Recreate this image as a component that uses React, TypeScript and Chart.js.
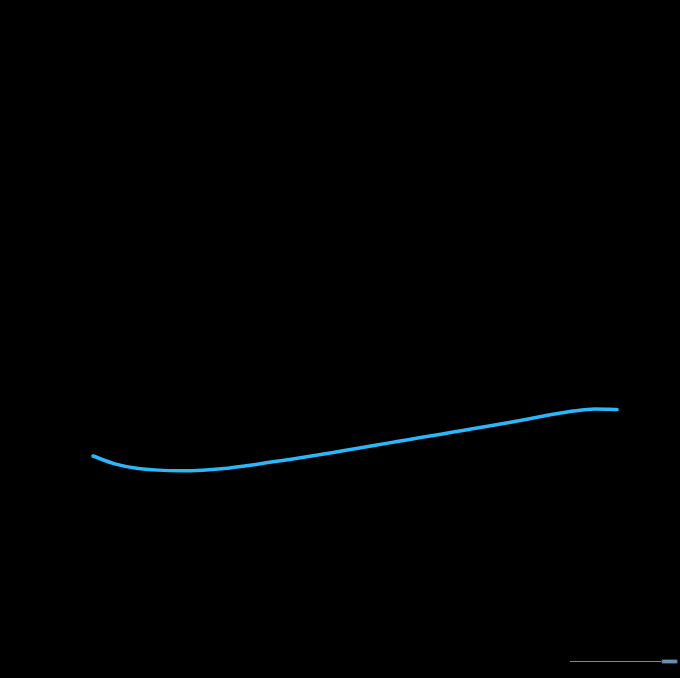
import React, { useEffect, useRef } from "react";
import { Chart, registerables } from "chart.js";

Chart.register(...registerables);

const categories: string[] = Array.from({ length: 25 }, (_, i) => String(i + 1));
const seriesValues: number[] = [
  32.74, 31.59, 30.94, 30.66, 30.57, 30.65, 30.9, 31.3, 31.77, 32.24, 32.73, 33.26, 33.82,
  34.37, 34.91, 35.46, 36.0, 36.55, 37.09, 37.65, 38.24, 38.85, 39.38, 39.68, 39.59,
];
const yMin = 0;
const yMax = 100;

export default function App() {
  const canvasRef = useRef<HTMLCanvasElement | null>(null);

  useEffect(() => {
    document.body.style.margin = "0";
    document.body.style.background = "#000";
    const canvas = canvasRef.current;
    if (!canvas) return;
    const chart = new Chart(canvas, {
      type: "line",
      data: {
        labels: categories,
        datasets: [
          {
            data: seriesValues,
            borderColor: "#2ab7fb",
            borderWidth: 3.5,
            pointRadius: 0,
            pointHoverRadius: 0,
            cubicInterpolationMode: "monotone",
            borderCapStyle: "round",
            borderJoinStyle: "round",
            fill: false,
            clip: false as any,
          },
        ],
      },
      options: {
        animation: false,
        responsive: false,
        maintainAspectRatio: false,
        layout: { padding: { left: 93, right: 63, top: 0, bottom: 0 } },
        plugins: { legend: { display: false }, tooltip: { enabled: false } },
        scales: {
          x: { display: false, offset: false },
          y: { display: false, min: yMin, max: yMax },
        },
      },
    });
    return () => chart.destroy();
  }, []);

  return (
    <div style={{ position: "relative", width: 680, height: 678, background: "#000", overflow: "hidden" }}>
      <canvas ref={canvasRef} width={680} height={678} style={{ display: "block", width: 680, height: 678 }} />
      <div
        style={{
          position: "absolute",
          left: 570,
          top: 661,
          width: 91,
          height: 1,
          background: "#4a9cb0",
        }}
      />
      <div
        style={{
          position: "absolute",
          left: 661,
          top: 659,
          width: 15,
          height: 3,
          background: "#6a8fb0",
          border: "1px solid #1d3a6a",
          borderRadius: 2,
        }}
      />
    </div>
  );
}
